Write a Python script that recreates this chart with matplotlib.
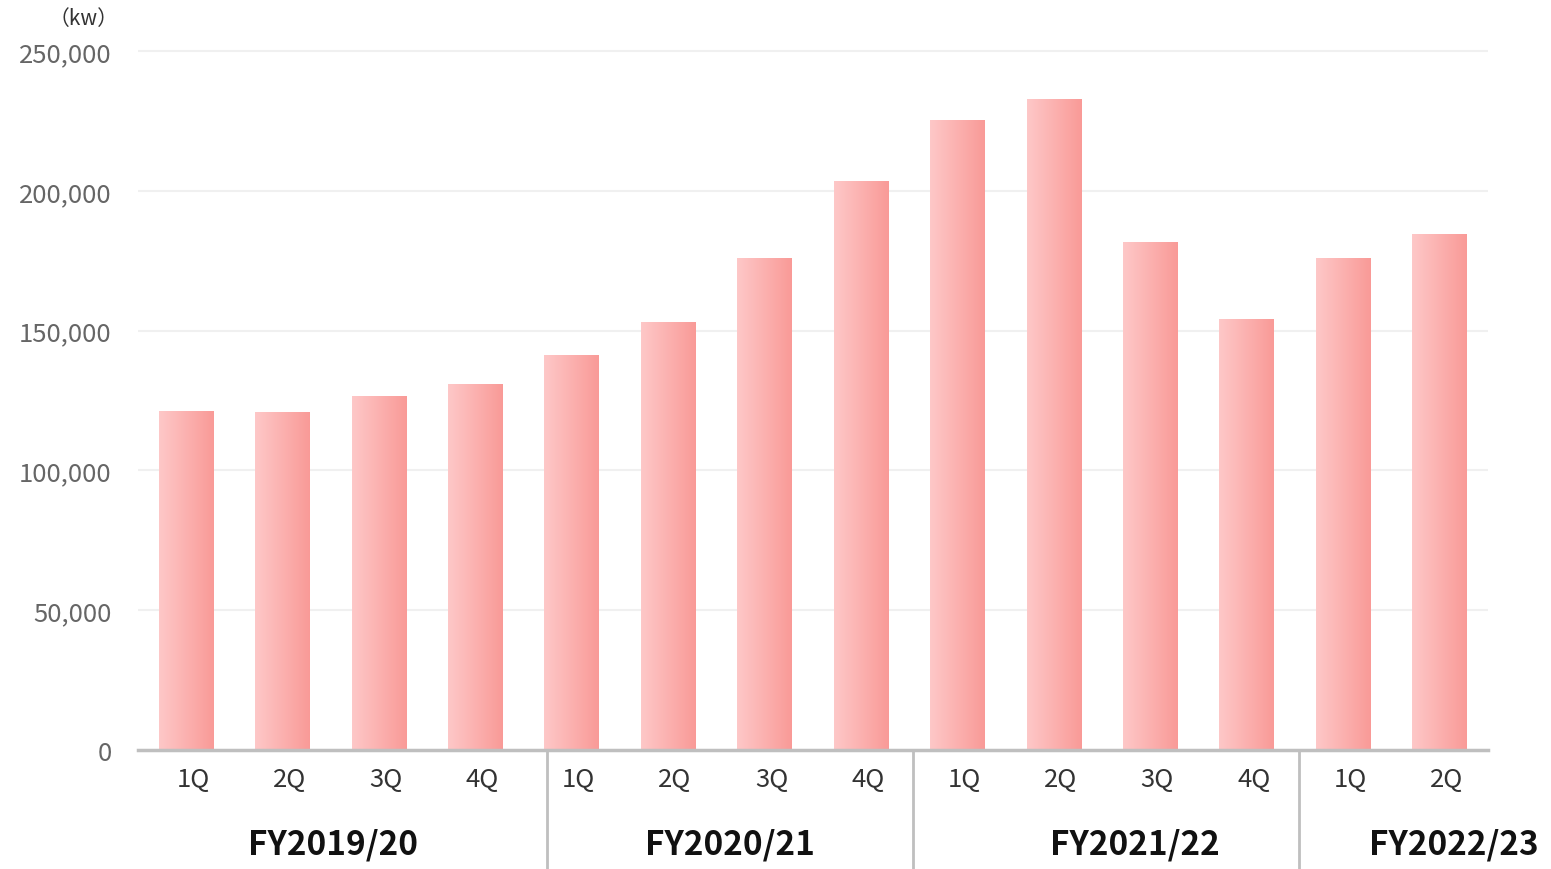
import matplotlib.pyplot as plt
import matplotlib.transforms as mtransforms
from matplotlib.colors import LinearSegmentedColormap
import numpy as np

plt.rcParams['font.family'] = ['Noto Sans CJK JP', 'DejaVu Sans']

quarters = ['1Q', '2Q', '3Q', '4Q', '1Q', '2Q', '3Q', '4Q', '1Q', '2Q', '3Q', '4Q', '1Q', '2Q']
values = [121200, 120900, 126600, 130900, 141300, 153100, 176000, 203500,
          225300, 232800, 181700, 154100, 176000, 184500]
years = ['FY2019/20', 'FY2020/21', 'FY2021/22', 'FY2022/23']
year_pos = [1.52, 5.64, 9.84, 13.15]
separators = [3.74, 7.54, 11.54]
yticks = [0, 50000, 100000, 150000, 200000, 250000]

fig = plt.figure(figsize=(15.51, 8.70), dpi=100)
ax = fig.add_axes([138 / 1551, 1 - 751 / 870, (1488 - 138) / 1551, (751 - 45) / 870])

x = np.arange(len(values))
bars = ax.bar(x, values, width=0.57, color='none', edgecolor='none', zorder=3)

# horizontal gradient for each bar
cmap = LinearSegmentedColormap.from_list('pink', ['#fec8c8', '#f99a97'])
grad = np.linspace(0, 1, 256).reshape(1, -1)
for b in bars:
    x0, w, h = b.get_x(), b.get_width(), b.get_height()
    im = ax.imshow(grad, cmap=cmap, extent=[x0, x0 + w, 0, h], aspect='auto', zorder=3)
    im.set_clip_path(b)

ax.set_xlim(-0.5, len(values) - 0.5)
ax.set_ylim(0, 250000 * 1.01)
ax.set_yticks(yticks)
ax.set_yticklabels([f'{v:,}' for v in yticks], fontsize=18.5, color='#666666')
ax.tick_params(axis='y', length=0, pad=19)
ax.set_xticks([])
ax.yaxis.grid(True, color='#f0f0f0', linewidth=1.5, zorder=0)
ax.set_axisbelow(True)
for s in ['top', 'right', 'left']:
    ax.spines[s].set_visible(False)
ax.spines['bottom'].set_color('#bfbfbf')
ax.spines['bottom'].set_linewidth(2.5)
ax.spines['bottom'].set_zorder(4)

trans = mtransforms.blended_transform_factory(ax.transData, fig.transFigure)
for xi, q in zip(x, quarters):
    fig.text(xi + 0.07, 1 - 780 / 870, q, transform=trans, ha='center', va='center',
             fontsize=18.5, color='#333333')
for xp, y in zip(year_pos, years):
    fig.text(xp, 1 - 845 / 870, y, transform=trans, ha='center', va='center',
             fontsize=24, fontweight='bold', color='#111111')
for s in separators:
    ax.plot([s, s], [1 - 751 / 870, 0], transform=trans, color='#bfbfbf',
            linewidth=2, clip_on=False, zorder=2)

fig.text(84 / 1551, 1 - 19 / 870, '（kw）', ha='center', va='center',
         fontsize=15, color='#333333')

fig.savefig('out.png', dpi=100)
